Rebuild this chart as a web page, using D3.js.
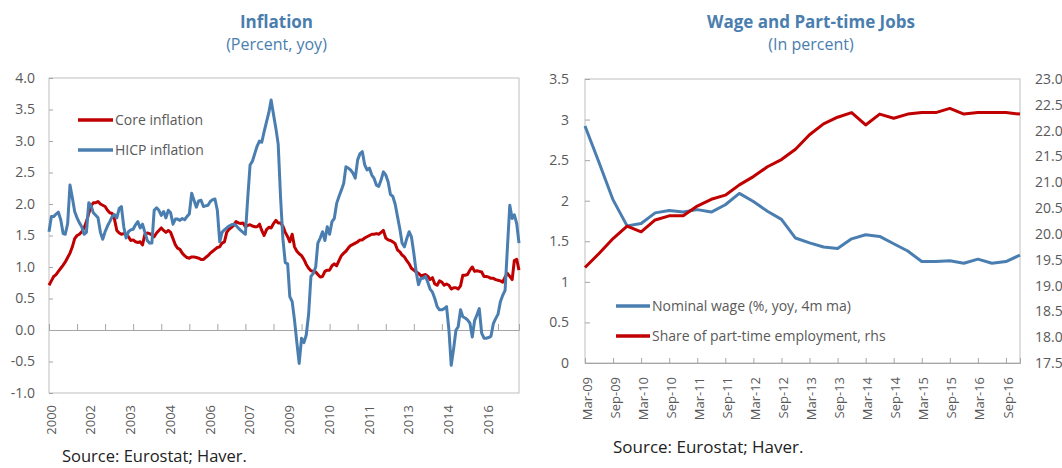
<!DOCTYPE html>
<html><head><meta charset="utf-8">
<script src="https://cdn.jsdelivr.net/npm/d3@7"></script>
<style>body{margin:0;background:#fff}svg{display:block;font-family:"Open Sans",sans-serif}</style>
</head><body><svg id="c" width="1062" height="468"></svg>
<script>
// ---------- Data: Inflation (monthly, Aug 2000 - May 2017) ----------
const inflationStart = "2000-08";
const inflationEnd = "2017-05";
const coreInflation = [
0.71,0.78,0.85,0.88,0.93,0.98,1.03,1.08,1.15,1.22,
1.32,1.45,1.50,1.52,1.56,1.62,1.72,1.85,1.97,2.02,
2.02,2.04,2.00,1.98,1.96,1.90,1.86,1.85,1.76,1.58,
1.54,1.52,1.53,1.52,1.48,1.42,1.43,1.40,1.39,1.40,
1.35,1.52,1.54,1.53,1.51,1.48,1.54,1.58,1.62,1.58,
1.55,1.58,1.55,1.45,1.35,1.30,1.28,1.22,1.18,1.15,
1.14,1.16,1.16,1.15,1.14,1.12,1.12,1.15,1.18,1.22,
1.25,1.28,1.31,1.32,1.38,1.40,1.55,1.60,1.63,1.66,
1.72,1.70,1.69,1.70,1.64,1.66,1.67,1.65,1.64,1.64,
1.68,1.58,1.50,1.59,1.63,1.62,1.69,1.74,1.70,1.70,
1.65,1.55,1.48,1.40,1.52,1.32,1.25,1.21,1.18,1.12,
1.04,0.98,0.94,0.93,0.92,0.88,0.84,0.85,0.93,0.95,
0.95,1.02,1.05,1.02,1.10,1.18,1.22,1.25,1.30,1.34,
1.36,1.38,1.40,1.43,1.43,1.46,1.48,1.50,1.52,1.52,
1.53,1.52,1.55,1.58,1.46,1.43,1.42,1.40,1.37,1.27,
1.24,1.19,1.16,1.10,1.05,0.98,0.95,0.92,0.90,0.86,
0.87,0.88,0.85,0.80,0.83,0.73,0.71,0.78,0.76,0.71,
0.73,0.71,0.65,0.67,0.67,0.65,0.70,0.87,0.87,0.88,
0.95,1.00,0.93,0.94,0.93,0.92,0.85,0.85,0.84,0.82,
0.82,0.80,0.79,0.78,0.76,0.84,0.90,0.85,0.80,1.10,
1.12,0.95];
const hicpInflation = [
1.56,1.80,1.80,1.84,1.87,1.75,1.53,1.52,1.69,2.30,
2.10,1.88,1.78,1.70,1.64,1.52,1.55,2.02,1.97,1.86,
1.82,1.78,1.55,1.44,1.56,1.65,1.72,1.80,1.83,1.78,
1.93,1.96,1.64,1.46,1.56,1.59,1.60,1.67,1.72,1.62,
1.68,1.55,1.42,1.38,1.38,1.90,1.94,1.90,1.82,1.88,
1.78,1.90,1.86,1.68,1.76,1.76,1.74,1.77,1.75,1.80,
1.84,2.17,2.06,1.95,2.05,2.06,1.96,1.97,1.98,2.04,
2.07,2.08,1.90,1.40,1.55,1.59,1.62,1.65,1.67,1.68,
1.66,1.62,1.58,1.55,1.52,2.10,2.62,2.68,2.80,2.92,
3.00,2.98,3.15,3.30,3.45,3.65,3.42,3.20,2.95,2.10,
1.45,1.07,1.05,0.53,0.45,0.16,-0.20,-0.53,-0.13,-0.20,
-0.08,0.25,0.85,0.90,1.00,1.38,1.46,1.56,1.42,1.64,
1.52,1.72,1.77,2.01,2.12,2.22,2.33,2.59,2.57,2.54,
2.49,2.41,2.70,2.80,2.83,2.62,2.54,2.57,2.46,2.41,
2.30,2.28,2.38,2.51,2.46,2.35,2.15,2.12,2.00,1.80,
1.60,1.38,1.32,1.45,1.56,1.48,1.22,0.92,0.72,0.82,
0.82,0.85,0.75,0.65,0.60,0.50,0.37,0.32,0.32,0.34,
0.37,0.00,-0.56,-0.30,0.00,0.05,0.32,0.21,0.19,0.16,
0.11,-0.11,0.15,0.24,0.34,-0.05,-0.13,-0.13,-0.12,-0.10,
0.10,0.18,0.25,0.45,0.55,0.63,1.30,1.98,1.77,1.83,
1.69,1.38];
const inflationYTicks = [-1,-0.5,0,0.5,1,1.5,2,2.5,3,3.5,4];
const inflationXLabels = ["2000","2002","2003","2004","2006","2007","2009","2010","2011","2013","2014","2016"];

// ---------- Data: Wage and Part-time Jobs (quarterly) ----------
const quarters = ["Mar-09","Jun-09","Sep-09","Dec-09","Mar-10","Jun-10","Sep-10","Dec-10",
"Mar-11","Jun-11","Sep-11","Dec-11","Mar-12","Jun-12","Sep-12","Dec-12",
"Mar-13","Jun-13","Sep-13","Dec-13","Mar-14","Jun-14","Sep-14","Dec-14",
"Mar-15","Jun-15","Sep-15","Dec-15","Mar-16","Jun-16","Sep-16","Dec-16"];
const nominalWage = [2.92,2.47,2.01,1.69,1.72,1.85,1.88,1.86,1.89,1.86,1.95,2.09,1.99,1.87,1.77,1.54,
1.48,1.43,1.41,1.53,1.58,1.56,1.47,1.38,1.25,1.25,1.26,1.23,1.28,1.23,1.25,1.33];
const partTimeShare = [19.35,19.62,19.91,20.15,20.04,20.27,20.35,20.35,20.54,20.67,20.75,20.95,21.11,21.30,21.44,21.64,
21.92,22.13,22.26,22.35,22.11,22.32,22.24,22.32,22.35,22.35,22.43,22.32,22.35,22.35,22.35,22.32];
const wageLeftTicks = [0,0.5,1,1.5,2,2.5,3,3.5];
const wageRightTicks = [17.5,18,18.5,19,19.5,20,20.5,21,21.5,22,22.5,23];

// ---------- Styles ----------
const BLUE = "#4a7eb0", RED = "#c00000", BORDER = "#bfbfbf", AXIS = "#a6a6a6",
      TXT = "#595959", TITLE = "#4a7eae";

const svg = d3.select("#c");

function title(cx, t1, t2) {
  svg.append("text").attr("x", cx).attr("y", 28).attr("text-anchor", "middle")
    .attr("font-size", 17).attr("font-weight", "bold").attr("fill", TITLE).text(t1);
  svg.append("text").attr("x", cx).attr("y", 50).attr("text-anchor", "middle")
    .attr("font-size", 16).attr("fill", TITLE).text(t2);
}
function styleAxis(g) {
  g.selectAll("text").attr("fill", TXT).attr("font-size", 13).attr("font-family", '"Open Sans",sans-serif');
  g.selectAll("line").attr("stroke", AXIS);
  g.select(".domain").remove();
}

// ================= Left chart =================
title(276.5, "Inflation", "(Percent, yoy)");
const parse = d3.timeParse("%Y-%m");
const months = d3.timeMonth.range(parse(inflationStart), d3.timeMonth.offset(parse(inflationEnd), 1));
const x1 = d3.scaleTime().domain([months[0], months[months.length - 1]]).range([49, 519]);
const y1 = d3.scaleLinear().domain([-1, 4]).range([393, 78]);

svg.append("rect").attr("x", x1.range()[0]).attr("y", y1.range()[1])
  .attr("width", x1.range()[1] - x1.range()[0]).attr("height", y1.range()[0] - y1.range()[1])
  .attr("fill", "none").attr("stroke", BORDER);

svg.append("g").attr("transform", `translate(${x1.range()[0]},0)`)
  .call(d3.axisLeft(y1).tickValues(inflationYTicks).tickSize(-4).tickPadding(14).tickFormat(d => d.toFixed(1)))
  .call(styleAxis).selectAll("text").attr("font-size", 14);

svg.append("g").attr("transform", `translate(0,${y1(0)})`)
  .call(d3.axisBottom(x1).tickValues(months.filter((d, i) => i % 12 === 0)).tickSize(-6).tickFormat(""))
  .call(g => g.select(".domain").attr("stroke", AXIS))
  .call(g => g.selectAll("line").attr("stroke", AXIS));

inflationXLabels.forEach((lab, k) => {
  const xx = x1(months[k * 17]) + 2;
  svg.append("text").attr("transform", `translate(${xx},405) rotate(-90)`)
    .attr("text-anchor", "end").attr("dy", "0.35em").attr("font-size", 13).attr("fill", TXT).text(lab);
});

const line1 = d3.line().x((d, i) => x1(months[i])).y(d => y1(d));
svg.append("path").datum(coreInflation).attr("d", line1).attr("fill", "none")
  .attr("stroke", RED).attr("stroke-width", 3).attr("stroke-linejoin", "round");
svg.append("path").datum(hicpInflation).attr("d", line1).attr("fill", "none")
  .attr("stroke", BLUE).attr("stroke-width", 3).attr("stroke-linejoin", "round");

[["Core inflation", RED, 120], ["HICP inflation", BLUE, 150]].forEach(([t, c, yy]) => {
  svg.append("line").attr("x1", 78).attr("x2", 113).attr("y1", yy).attr("y2", yy)
    .attr("stroke", c).attr("stroke-width", 3.5);
  svg.append("text").attr("x", 115).attr("y", yy).attr("dy", "0.35em").attr("font-size", 14)
    .attr("fill", TXT).text(t);
});

svg.append("text").attr("x", 62).attr("y", 462).attr("font-size", 16.5).attr("fill", "#222")
  .text("Source: Eurostat; Haver.");

// ================= Right chart =================
title(811, "Wage and Part-time Jobs", "(In percent)");
const x2 = d3.scalePoint().domain(quarters).range([585, 1020]);
const y2 = d3.scaleLinear().domain([0, 3.5]).range([363, 79]);
const y2r = d3.scaleLinear().domain([17.5, 23]).range([363, 79]);

svg.append("rect").attr("x", 585).attr("y", y2.range()[1])
  .attr("width", 1020 - 585).attr("height", y2.range()[0] - y2.range()[1])
  .attr("fill", "none").attr("stroke", BORDER);

svg.append("g").attr("transform", "translate(585,0)")
  .call(d3.axisLeft(y2).tickValues(wageLeftTicks).tickSize(-5).tickPadding(16).tickFormat(d => String(d)))
  .call(styleAxis).selectAll("text").attr("font-size", 14);

svg.append("g").attr("transform", "translate(1020,0)")
  .call(d3.axisRight(y2r).tickValues(wageRightTicks).tickSize(0).tickPadding(15).tickFormat(d => d.toFixed(1)))
  .call(styleAxis).selectAll("text").attr("font-size", 14);

svg.append("g").attr("transform", `translate(0,${y2(0)})`)
  .call(d3.axisBottom(x2).tickValues(quarters.filter((d, i) => i % 2 === 0)).tickSize(-5).tickFormat(""))
  .call(g => g.select(".domain").attr("stroke", AXIS))
  .call(g => g.selectAll("line").attr("stroke", AXIS));

quarters.filter((d, i) => i % 2 === 0).forEach(q => {
  svg.append("text").attr("transform", `translate(${x2(q) + 2},377) rotate(-90)`)
    .attr("text-anchor", "end").attr("dy", "0.35em").attr("font-size", 13).attr("fill", TXT).text(q);
});

svg.append("path").datum(nominalWage)
  .attr("d", d3.line().x((d, i) => x2(quarters[i])).y(d => y2(d)))
  .attr("fill", "none").attr("stroke", BLUE).attr("stroke-width", 3).attr("stroke-linejoin", "round");
svg.append("path").datum(partTimeShare)
  .attr("d", d3.line().x((d, i) => x2(quarters[i])).y(d => y2r(d)))
  .attr("fill", "none").attr("stroke", RED).attr("stroke-width", 3).attr("stroke-linejoin", "round");

[["Nominal wage (%, yoy, 4m ma)", BLUE, 306], ["Share of part-time employment, rhs", RED, 336]].forEach(([t, c, yy]) => {
  svg.append("line").attr("x1", 616).attr("x2", 650).attr("y1", yy).attr("y2", yy)
    .attr("stroke", c).attr("stroke-width", 3.5);
  svg.append("text").attr("x", 652).attr("y", yy).attr("dy", "0.35em").attr("font-size", 14)
    .attr("fill", TXT).text(t);
});

svg.append("text").attr("x", 613).attr("y", 453).attr("font-size", 17).attr("fill", "#222")
  .text("Source: Eurostat; Haver.");
</script></body></html>
